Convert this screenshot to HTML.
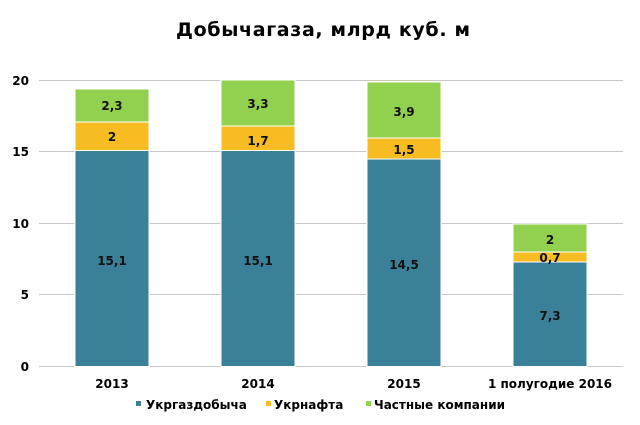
<!DOCTYPE html>
<html><head><meta charset="utf-8"><style>
body{margin:0;background:#fff}
svg text{font-family:"DejaVu Sans","Liberation Sans",sans-serif;font-weight:bold}
</style></head><body>
<svg width="640" height="420" xmlns="http://www.w3.org/2000/svg">
<text x="323" y="36" text-anchor="middle" font-size="19" fill="#000" textLength="294" lengthAdjust="spacing">Добычагаза,  млрд куб.  м</text>
<g stroke="#c8c8c8" stroke-width="1">
<line x1="39" x2="623" y1="80.5" y2="80.5"/>
<line x1="39" x2="623" y1="151.5" y2="151.5"/>
<line x1="39" x2="623" y1="223.5" y2="223.5"/>
<line x1="39" x2="623" y1="294.5" y2="294.5"/>
<line x1="39" x2="623" y1="366.5" y2="366.5"/>
</g>
<g font-size="12" fill="#000" text-anchor="end">
<text x="29" y="85">20</text><text x="29" y="156">15</text><text x="29" y="228">10</text><text x="29" y="299">5</text><text x="29" y="371">0</text>
</g>
<g stroke="#fff" stroke-width="1">
<rect x="75" y="150.5" width="74" height="216" fill="#3b8099"/>
<rect x="75" y="122" width="74" height="28.5" fill="#f7bc21"/>
<rect x="75" y="89" width="74" height="33" fill="#92d050"/>
<rect x="221" y="150.5" width="74" height="216" fill="#3b8099"/>
<rect x="221" y="126" width="74" height="24.5" fill="#f7bc21"/>
<rect x="221" y="80" width="74" height="46" fill="#92d050"/>
<rect x="367" y="159" width="74" height="207.5" fill="#3b8099"/>
<rect x="367" y="138" width="74" height="21" fill="#f7bc21"/>
<rect x="367" y="82" width="74" height="56" fill="#92d050"/>
<rect x="513" y="262" width="74" height="104.5" fill="#3b8099"/>
<rect x="513" y="252" width="74" height="10" fill="#f7bc21"/>
<rect x="513" y="224" width="74" height="28" fill="#92d050"/>
</g>
<g font-size="12" fill="#111" text-anchor="middle">
<text x="112" y="265">15,1</text><text x="112" y="141">2</text><text x="112" y="110">2,3</text>
<text x="258" y="265">15,1</text><text x="258" y="145">1,7</text><text x="258" y="108">3,3</text>
<text x="404" y="269">14,5</text><text x="404" y="154">1,5</text><text x="404" y="116">3,9</text>
<text x="550" y="320">7,3</text><text x="550" y="262">0,7</text><text x="550" y="244">2</text>
</g>
<g font-size="12" fill="#000" text-anchor="middle">
<text x="112" y="388">2013</text><text x="258" y="388">2014</text><text x="404" y="388">2015</text><text x="550" y="388">1 полугодие 2016</text>
</g>
<g font-size="12" fill="#000">
<rect x="136" y="401" width="5" height="5" fill="#3b8099"/><text x="146" y="409">Укргаздобыча</text>
<rect x="266" y="401" width="5" height="5" fill="#f7bc21"/><text x="274" y="409">Укрнафта</text>
<rect x="366" y="401" width="5" height="5" fill="#92d050"/><text x="374" y="409">Частные компании</text>
</g>
</svg>
</body></html>
